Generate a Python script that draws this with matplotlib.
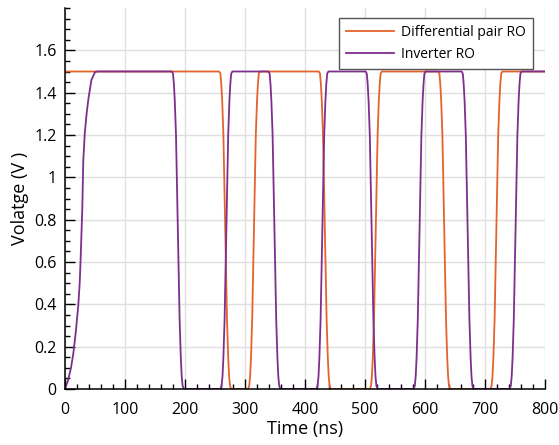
import matplotlib.pyplot as plt
from matplotlib.ticker import MultipleLocator

# Differential pair RO waveform (time in ns, voltage in V)
diff_t = [0, 257, 259, 260.5, 262, 264, 270, 272, 273.5, 275, 277,
          305, 307, 308.5, 310, 312, 318, 320, 321.5, 323, 325,
          423, 425, 426.5, 428, 430, 436, 438, 439.5, 441, 443,
          508, 510, 511.5, 513, 515, 521, 523, 524.5, 526, 528,
          622, 624, 625.5, 627, 629, 635, 637, 638.5, 640, 642,
          709, 711, 712.5, 714, 716, 722, 724, 725.5, 727, 729,
          800]
diff_v = [1.5, 1.5, 1.49, 1.44, 1.36, 1.2, 0.33, 0.15, 0.06, 0.015, 0,
          0, 0.015, 0.06, 0.15, 0.33, 1.2, 1.36, 1.44, 1.49, 1.5,
          1.5, 1.49, 1.44, 1.36, 1.2, 0.33, 0.15, 0.06, 0.015, 0,
          0, 0.015, 0.06, 0.15, 0.33, 1.2, 1.36, 1.44, 1.49, 1.5,
          1.5, 1.49, 1.44, 1.36, 1.2, 0.33, 0.15, 0.06, 0.015, 0,
          0, 0.015, 0.06, 0.15, 0.33, 1.2, 1.36, 1.44, 1.49, 1.5,
          1.5]

# Inverter RO waveform
inv_t = [0, 5, 10, 14, 18, 22, 24.5, 26, 28.8, 30.5, 33, 36, 39, 44, 50, 54,
         178, 180, 181.5, 183, 185, 191, 193, 194.5, 196, 198,
         259, 261, 262.5, 264, 266, 272, 274, 275.5, 277, 279,
         339, 341, 342.5, 344, 346, 352, 354, 355.5, 357, 359,
         419, 421, 422.5, 424, 426, 432, 434, 435.5, 437, 439,
         501, 503, 504.5, 506, 508, 514, 516, 517.5, 519, 521,
         581, 583, 584.5, 586, 588, 594, 596, 597.5, 599, 601,
         661, 663, 664.5, 666, 668, 674, 676, 677.5, 679, 681,
         741, 743, 744.5, 746, 748, 754, 756, 757.5, 759, 761,
         800]
inv_v = [0, 0.04, 0.1, 0.17, 0.27, 0.39, 0.5, 0.61, 0.85, 1.08, 1.21, 1.3, 1.37, 1.46, 1.497, 1.5,
         1.5, 1.49, 1.44, 1.36, 1.2, 0.33, 0.15, 0.06, 0.015, 0,
         0, 0.015, 0.06, 0.15, 0.33, 1.2, 1.36, 1.44, 1.49, 1.5,
         1.5, 1.49, 1.44, 1.36, 1.2, 0.33, 0.15, 0.06, 0.015, 0,
         0, 0.015, 0.06, 0.15, 0.33, 1.2, 1.36, 1.44, 1.49, 1.5,
         1.5, 1.49, 1.44, 1.36, 1.2, 0.33, 0.15, 0.06, 0.015, 0,
         0, 0.015, 0.06, 0.15, 0.33, 1.2, 1.36, 1.44, 1.49, 1.5,
         1.5, 1.49, 1.44, 1.36, 1.2, 0.33, 0.15, 0.06, 0.015, 0,
         0, 0.015, 0.06, 0.15, 0.33, 1.2, 1.36, 1.44, 1.49, 1.5,
         1.5]

plt.rcParams['font.family'] = ['Open Sans', 'DejaVu Sans']

fig = plt.figure(figsize=(5.59, 4.45), dpi=100)
ax = fig.add_axes([65 / 559, 1 - 389 / 445, 480 / 559, 381 / 445])

ax.plot(diff_t, diff_v, color='#E4632A', lw=1.3, label='Differential pair RO')
ax.plot(inv_t, inv_v, color='#7E2F8E', lw=1.3, label='Inverter RO')

ax.set_xlim(0, 800)
ax.set_ylim(0, 1.8)
ax.set_xticks(range(0, 801, 100))
ax.set_yticks([0, 0.2, 0.4, 0.6, 0.8, 1, 1.2, 1.4, 1.6])
ax.set_yticklabels(['0', '0.2', '0.4', '0.6', '0.8', '1', '1.2', '1.4', '1.6'])
ax.xaxis.set_minor_locator(MultipleLocator(20))
ax.yaxis.set_minor_locator(MultipleLocator(0.05))
ax.tick_params(which='major', direction='in', length=7, width=1, labelsize=11.5)
ax.tick_params(which='minor', direction='in', length=3.5, width=1)
ax.tick_params(axis='x', which='major', pad=9)
ax.tick_params(axis='y', which='major', pad=6)
ax.grid(True, which='major', color='#e0e0e0', lw=1)
ax.set_axisbelow(True)
for s in ['top', 'right']:
    ax.spines[s].set_visible(False)
for s in ['left', 'bottom']:
    ax.spines[s].set_linewidth(1.1)

ax.set_xlabel('Time (ns)', fontsize=13, labelpad=2)
ax.set_ylabel('Volatge (V )', fontsize=13, labelpad=4)

leg = ax.legend(loc='upper right', bbox_to_anchor=(0.975, 0.974), borderaxespad=0,
                fancybox=False, framealpha=1, edgecolor='#555555', fontsize=10,
                handlelength=3.5, handletextpad=0.5, labelspacing=0.5, borderpad=0.5)
leg.get_frame().set_linewidth(1)

fig.savefig('out.png', dpi=100)
